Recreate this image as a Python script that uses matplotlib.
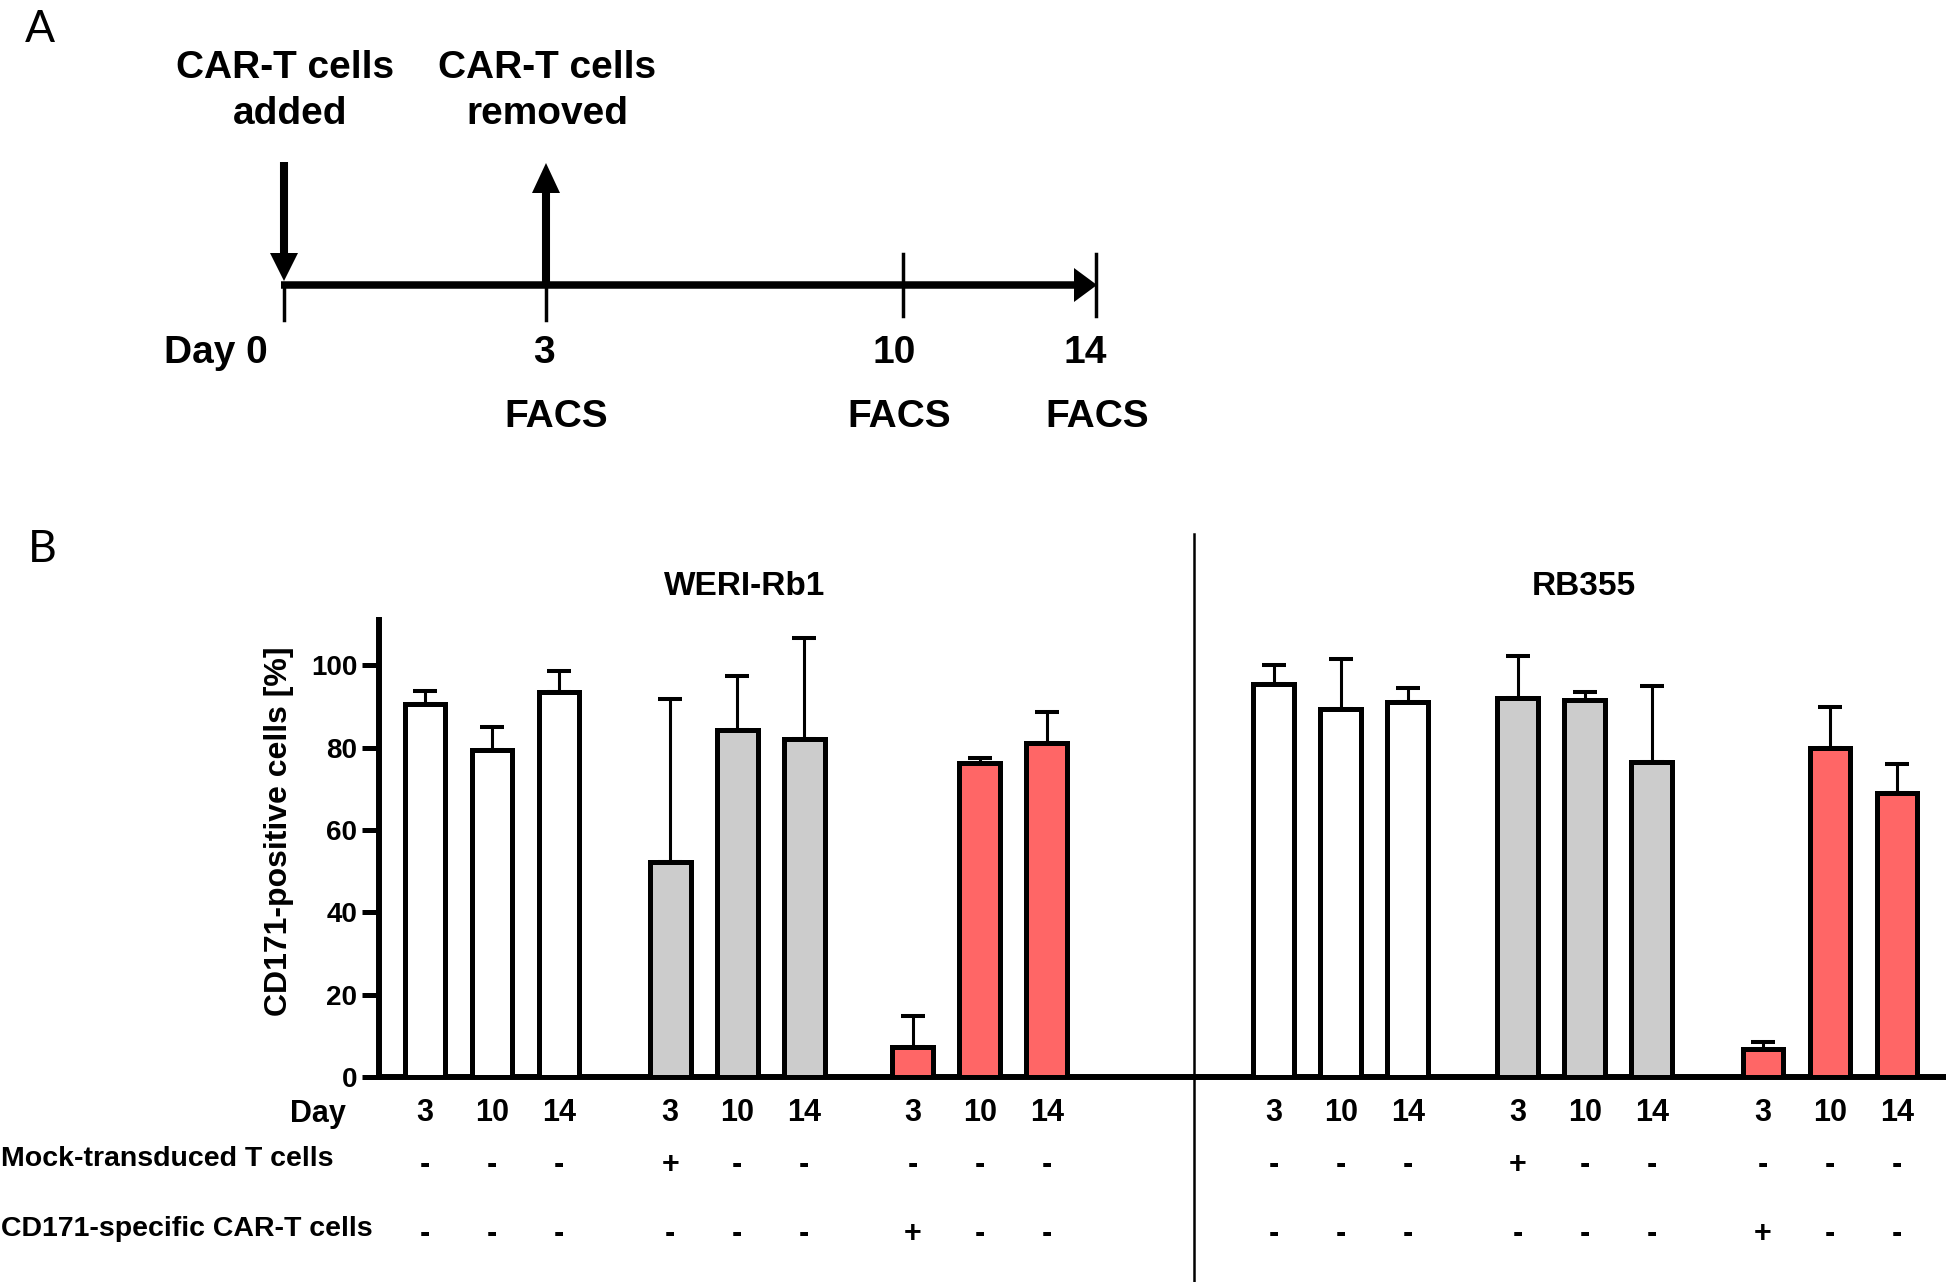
import matplotlib
matplotlib.use('Agg')
import matplotlib.pyplot as plt
from matplotlib.patches import Polygon
from matplotlib.lines import Line2D
from matplotlib.transforms import blended_transform_factory
import numpy as np

# ---------------- data ----------------
cell_lines = ['WERI-Rb1', 'RB355']
days = ['3', '10', '14']

weri_untreated = [90.5, 79.5, 93.5]
weri_untreated_err = [3.2, 5.5, 5.0]
weri_mock = [52.3, 84.2, 82.2]
weri_mock_err = [39.5, 13.2, 24.4]
weri_car = [7.2, 76.2, 81.2]
weri_car_err = [7.6, 1.3, 7.4]

rb_untreated = [95.5, 89.5, 91.0]
rb_untreated_err = [4.5, 12.0, 3.5]
rb_mock = [92.0, 91.6, 76.4]
rb_mock_err = [10.2, 2.0, 18.6]
rb_car = [6.8, 79.8, 69.0]
rb_car_err = [1.6, 10.0, 7.0]

mock_signs = ['-', '-', '-', '+', '-', '-', '-', '-', '-']
car_signs = ['-', '-', '-', '-', '-', '-', '+', '-', '-']

yticks = [0, 20, 40, 60, 80, 100]
timeline_labels = ['Day 0', '3', '10', '14']
facs_labels = ['FACS', 'FACS', 'FACS']

# ---------------- style ----------------
plt.rcParams['font.family'] = ['Liberation Sans', 'DejaVu Sans']
plt.rcParams['font.weight'] = 'bold'

W, H = 1946, 1282
fig = plt.figure(figsize=(W / 100, H / 100), dpi=100)

# overlay axes in pixel coordinates (schematic + free labels)
axO = fig.add_axes([0, 0, 1, 1], zorder=0)
axO.set_xlim(0, W)
axO.set_ylim(H, 0)
axO.axis('off')

# ---------------- panel A (schematic) ----------------
axO.text(25, 42, 'A', family=['Lato', 'DejaVu Sans'], fontweight='normal',
         fontsize=32, ha='left', va='baseline')

line_y = 285
tick_x = [284, 546, 903, 1096]
# main timeline
axO.plot([281, 1078], [line_y, line_y], color='black', lw=5.4, solid_capstyle='butt')
axO.add_patch(Polygon([[1074, 268], [1074, 302], [1097, line_y]], closed=True,
                      color='black', lw=0))
# ticks
axO.plot([tick_x[0]] * 2, [line_y, 320], color='black', lw=2.5)
axO.plot([tick_x[1]] * 2, [line_y, 320], color='black', lw=2.5)
axO.plot([tick_x[2]] * 2, [254, 316], color='black', lw=2.5)
axO.plot([tick_x[3]] * 2, [254, 316], color='black', lw=2.5)
# down arrow (added)
axO.plot([tick_x[0]] * 2, [162, 256], color='black', lw=5.8, solid_capstyle='butt')
axO.add_patch(Polygon([[270, 253], [298, 253], [tick_x[0], 281]], closed=True,
                      color='black', lw=0))
# up arrow (removed)
axO.plot([tick_x[1]] * 2, [line_y, 190], color='black', lw=5.8, solid_capstyle='butt')
axO.add_patch(Polygon([[532, 193], [560, 193], [tick_x[1], 163]], closed=True,
                      color='black', lw=0))

fsA = 28
axO.text(285, 78, 'CAR-T cells', fontsize=fsA, ha='center', va='baseline')
axO.text(290, 124, 'added', fontsize=fsA, ha='center', va='baseline')
axO.text(547, 78, 'CAR-T cells', fontsize=fsA, ha='center', va='baseline')
axO.text(547, 124, 'removed', fontsize=fsA, ha='center', va='baseline')

for lab, x in zip(timeline_labels, [216, 544, 894, 1085]):
    axO.text(x, 363, lab, fontsize=fsA, ha='center', va='baseline')
for lab, x in zip(facs_labels, [556, 899, 1097]):
    axO.text(x, 427, lab, fontsize=fsA, ha='center', va='baseline')

# ---------------- panel B (bar chart) ----------------
axO.text(28, 562, 'B', family=['Lato', 'DejaVu Sans'], fontweight='normal',
         fontsize=32, ha='left', va='baseline')

left_px, zero_px, top_px = 379, 1077, 620
ax = fig.add_axes([left_px / W, 1 - zero_px / H, 1 - left_px / W, (zero_px - top_px) / H],
                  zorder=2)
ax.patch.set_alpha(0)

group_starts = [0, 3.66, 7.28, 12.67, 16.31, 19.97]
xs_all = [g + i * 1.0 for g in group_starts for i in range(3)]

groups = [
    (weri_untreated, weri_untreated_err, 'white'),
    (weri_mock, weri_mock_err, '#CCCCCC'),
    (weri_car, weri_car_err, '#FF6666'),
    (rb_untreated, rb_untreated_err, 'white'),
    (rb_mock, rb_mock_err, '#CCCCCC'),
    (rb_car, rb_car_err, '#FF6666'),
]
bw = 0.61
for gi, (vals, errs, col) in enumerate(groups):
    xs = [group_starts[gi] + i for i in range(3)]
    ax.bar(xs, vals, width=bw, color=col, edgecolor='black', linewidth=3.6, zorder=3)
    ax.errorbar(xs, vals, yerr=[np.zeros(3), errs], fmt='none', ecolor='black',
                elinewidth=2.2, capsize=8.3, capthick=2.9, zorder=2)

ax.set_xlim((left_px - 425) / 67, (W - 425) / 67)
ax.set_ylim(0, 111)
for s in ['top', 'right']:
    ax.spines[s].set_visible(False)
for s in ['left', 'bottom']:
    ax.spines[s].set_linewidth(4.3)
ax.set_yticks(yticks)
ax.set_yticklabels([str(t) for t in yticks], fontsize=20, fontweight='bold')
ax.tick_params(axis='y', length=12, width=3.6, pad=3.5)
ax.set_xticks(xs_all)
ax.set_xticklabels(days * 6, fontsize=22, fontweight='bold')
ax.tick_params(axis='x', length=0, pad=15)

ax.set_ylabel('CD171-positive cells [%]', fontsize=23, fontweight='bold')
ax.yaxis.set_label_coords(-0.054, 0.538)

# titles
axO.text(745, 595, cell_lines[0], fontsize=24, ha='center', va='baseline')
axO.text(1584, 595, cell_lines[1], fontsize=24, ha='center', va='baseline')

# divider between cell lines
trans = blended_transform_factory(ax.transData, axO.transData)
divider_x = 11.48
fig.add_artist(Line2D([divider_x, divider_x], [534, 1282], transform=trans,
                      color='black', lw=1.8))

# row labels
axO.text(346, 1122, 'Day', fontsize=22, ha='right', va='baseline')
axO.text(1, 1166, 'Mock-transduced T cells', fontsize=20.5, ha='left', va='baseline')
axO.text(1, 1236, 'CD171-specific CAR-T cells', fontsize=20.5, ha='left', va='baseline')

signs_mock_all = mock_signs * 2
signs_car_all = car_signs * 2
for x, sm, sc in zip(xs_all, signs_mock_all, signs_car_all):
    fig.text(x, 1173, sm, transform=trans, fontsize=22, ha='center', va='baseline')
    fig.text(x, 1242, sc, transform=trans, fontsize=22, ha='center', va='baseline')

fig.savefig('out.png', dpi=100, facecolor='white')
